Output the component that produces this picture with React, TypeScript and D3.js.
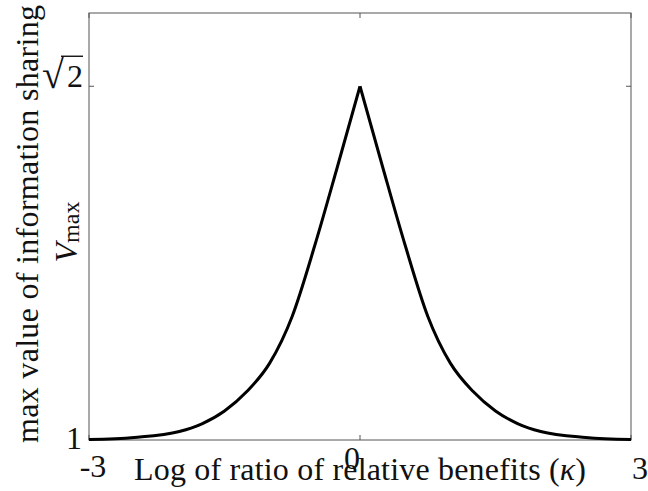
import React from 'react';
import * as d3 from 'd3';

// kappa (log ratio of relative benefits) and max value of information sharing
const kappa = [-3, -2.5, -2, -1.75, -1.5, -1.25, -1, -0.75, -0.5, -0.25, 0, 0.25, 0.5, 0.75, 1, 1.25, 1.5, 1.75, 2, 2.5, 3];
const vmax = [1.0005, 1.003, 1.01, 1.019, 1.034, 1.057, 1.09, 1.145, 1.228, 1.32, Math.SQRT2, 1.32, 1.228, 1.145, 1.09, 1.057, 1.034, 1.019, 1.01, 1.003, 1.0005];

const xTicks = [-3, 0, 3];
const yTicks = [1, Math.SQRT2];

const W = 648, H = 491;
const margin = {top: 13, right: 17, bottom: 51, left: 89};
const FONT = 'Liberation Serif, Times New Roman, serif';

export default function App() {
  const x = d3.scaleLinear().domain([-3, 3]).range([margin.left, W - margin.right]);
  const y = d3.scaleLinear().domain([1, 1.5]).range([H - margin.bottom, margin.top]);

  const pts = kappa.map((k, i) => ({k, v: vmax[i]}));
  const line = d3.line<{k: number, v: number}>()
    .x(d => x(d.k))
    .y(d => y(d.v))
    .curve(d3.curveMonotoneX);
  // two halves so the peak keeps its kink
  const left = line(pts.filter(d => d.k <= 0));
  const right = line(pts.filter(d => d.k >= 0));

  const x0 = x(-3), x1 = x(3), y0 = y(1), y1 = y(1.5);
  const tk = 5;
  const axisColor = '#555';

  const ySq = y(Math.SQRT2);

  return (
    <svg width={W} height={H} style={{position: 'absolute', left: 0, top: 0, background: '#fff'}}>
      <rect x={0} y={0} width={W} height={H} fill="#fff" />
      {/* box */}
      <rect x={x0} y={y1} width={x1 - x0} height={y0 - y1} fill="none" stroke={axisColor} strokeWidth={1} />
      {/* ticks, mirrored like matlab */}
      {xTicks.map(t => (
        <g key={'xt' + t}>
          <line x1={x(t)} x2={x(t)} y1={y0} y2={y0 - tk} stroke={axisColor} />
          <line x1={x(t)} x2={x(t)} y1={y1} y2={y1 + tk} stroke={axisColor} />
        </g>
      ))}
      {yTicks.map(t => (
        <g key={'yt' + t}>
          <line x1={x0} x2={x0 + tk} y1={y(t)} y2={y(t)} stroke={axisColor} />
          <line x1={x1} x2={x1 - tk} y1={y(t)} y2={y(t)} stroke={axisColor} />
        </g>
      ))}

      <path d={left || ''} fill="none" stroke="#000" strokeWidth={3} strokeLinejoin="miter" />
      <path d={right || ''} fill="none" stroke="#000" strokeWidth={3} strokeLinejoin="miter" />

      <g style={{fontFamily: FONT}} fontSize={32} fill="#111">
        {/* x tick labels */}
        <text x={x(-3) + 4} y={477} textAnchor="middle">-3</text>
        <text x={x(0) - 8} y={469} textAnchor="middle">0</text>
        <text x={x(3) + 1} y={479} textAnchor="start">3</text>
        {/* y tick labels */}
        <text x={x0 - 7} y={y(1) + 9} textAnchor="end">1</text>
        <text x={x0 - 6} y={ySq + 1} textAnchor="end">2</text>
        <text x={x0 - 25} y={ySq + 2} textAnchor="end" fontSize={40}>√</text>
        <line x1={x0 - 28} x2={x0 - 6} y1={ySq - 30} y2={ySq - 30} stroke="#111" strokeWidth={1.4} />

        {/* x label */}
        <text x={(x0 + x1) / 2} y={480} textAnchor="middle" textLength={452} lengthAdjust="spacing">
          Log of ratio of relative benefits (<tspan fontStyle="italic">κ</tspan>)
        </text>

        {/* y label */}
        <text transform={`translate(38, ${(5 + 443) / 2}) rotate(-90)`} textAnchor="middle" textLength={438} lengthAdjust="spacing">
          max value of information sharing
        </text>
        <text transform={`translate(77, 232) rotate(-90)`} textAnchor="middle">
          <tspan fontStyle="italic">V</tspan><tspan fontSize={24} dy={2}>max</tspan>
        </text>
      </g>
    </svg>
  );
}
